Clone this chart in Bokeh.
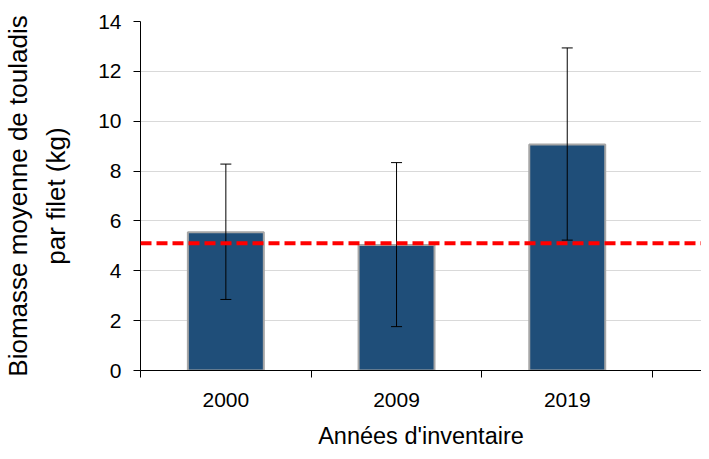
from bokeh.plotting import figure
from bokeh.models import Range1d, FixedTicker, Whisker, TeeHead, Span, ColumnDataSource
from bokeh.embed import file_html
from bokeh.resources import INLINE

categories = ["2000", "2009", "2019"]
biomass = [5.55, 5.03, 9.07]
err_low = [2.85, 1.76, 5.23]
err_high = [8.28, 8.34, 12.94]
reference_level = 5.1
y_ticks = [0, 2, 4, 6, 8, 10, 12, 14]

xpos = [i + 0.5 for i in range(len(categories))]
src = ColumnDataSource(dict(x=xpos, top=biomass, lower=err_low, upper=err_high))

FONT = "Liberation Sans"

p = figure(width=701, height=451, output_backend="svg", toolbar_location=None,
           x_range=Range1d(0, (701 - 139) / 171), y_range=Range1d(0, 14),
           min_border_left=139, min_border_right=0, min_border_top=21, min_border_bottom=81)
p.outline_line_color = None
p.background_fill_color = "white"
p.border_fill_color = "white"

p.vbar(x="x", top="top", width=0.445, source=src, fill_color="#1F4E79",
       line_color="#A6A6A6", line_width=2)

w = Whisker(base="x", lower="lower", upper="upper", source=src, level="annotation",
            line_color="black", line_width=1,
            upper_head=TeeHead(size=11, line_color="black", line_width=1),
            lower_head=TeeHead(size=11, line_color="black", line_width=1))
p.add_layout(w)

p.add_layout(Span(location=reference_level, dimension="width", line_color="#FF0000",
                  line_width=4, line_dash="11 5", level="annotation"))

# axes
p.xaxis.ticker = FixedTicker(ticks=xpos, minor_ticks=list(range(len(categories) + 1)))
p.xaxis.major_label_overrides = {x: c for x, c in zip(xpos, categories)}
p.xaxis.major_tick_out = 0
p.xaxis.major_tick_in = 0
p.xaxis.minor_tick_out = 7
p.xaxis.minor_tick_in = 0
p.xaxis.minor_tick_line_color = "black"
p.xaxis.axis_line_color = "black"
p.xaxis.major_label_text_font = FONT
p.xaxis.major_label_text_font_size = "21px"
p.xaxis.major_label_text_color = "black"
p.xaxis.major_label_standoff = 15
p.xaxis.axis_label = "Années d'inventaire"
p.xaxis.axis_label_text_font = FONT
p.xaxis.axis_label_text_font_size = "23.5px"
p.xaxis.axis_label_text_font_style = "normal"
p.xaxis.axis_label_text_color = "black"
p.xaxis.axis_label_standoff = 13

p.yaxis.ticker = FixedTicker(ticks=y_ticks, minor_ticks=[])
p.yaxis.major_tick_out = 7
p.yaxis.major_tick_in = 0
p.yaxis.major_tick_line_color = "black"
p.yaxis.axis_line_color = "black"
p.yaxis.major_label_text_font = FONT
p.yaxis.major_label_text_font_size = "21px"
p.yaxis.major_label_text_color = "black"
p.yaxis.major_label_standoff = 12
p.yaxis.axis_label = "Biomasse moyenne de touladis\npar filet (kg)"
p.yaxis.axis_label_text_font = FONT
p.yaxis.axis_label_text_font_size = "26px"
p.yaxis.axis_label_text_font_style = "normal"
p.yaxis.axis_label_text_color = "black"
p.yaxis.axis_label_text_line_height = 1.27
p.yaxis.axis_label_standoff = 24

p.xgrid.grid_line_color = None
p.ygrid.ticker = FixedTicker(ticks=y_ticks)
p.ygrid.grid_line_color = "#D9D9D9"
p.ygrid.grid_line_width = 1

open("out.html", "w").write(file_html(p, INLINE))
